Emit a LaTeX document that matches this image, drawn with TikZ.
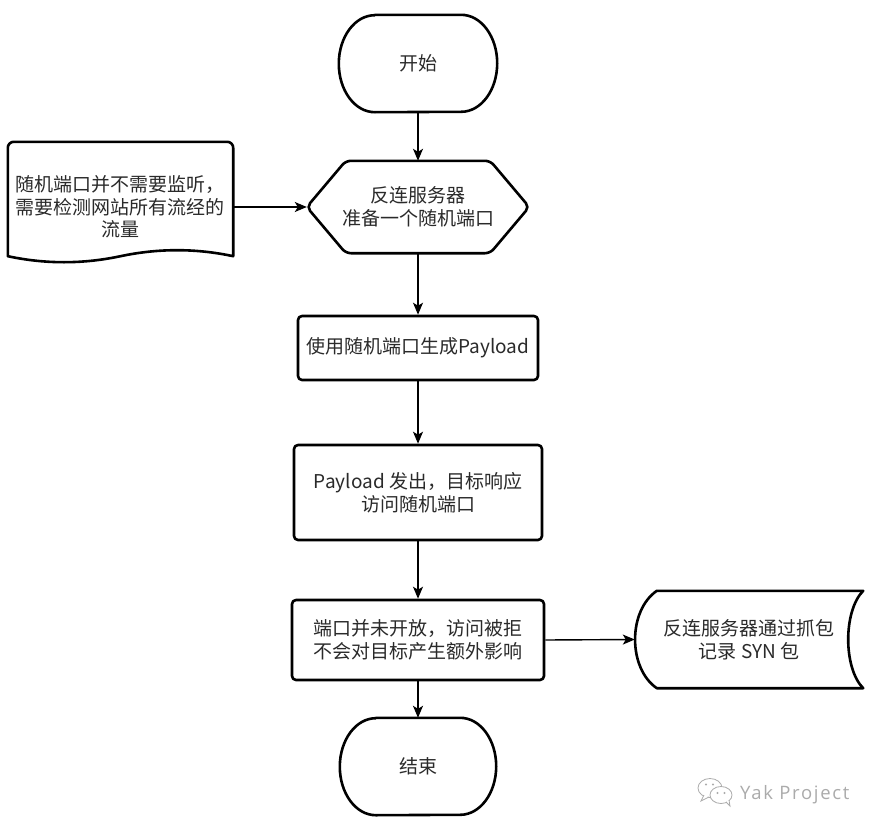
\documentclass[tikz,border=0pt]{standalone}
\usepackage{fontspec}
\newfontfamily\cjk{Noto Sans CJK SC}
\newfontfamily\wmfont[LetterSpace=9]{Open Sans}
\usetikzlibrary{arrows.meta,calc}
\definecolor{txt}{HTML}{2A2A2A}
\definecolor{wmgray}{HTML}{ABABAB}
\begin{document}
\begin{tikzpicture}[x=1pt,y=-1pt,
  every node/.style={font=\cjk\fontsize{19}{23.5}\selectfont, text=txt, align=center, inner sep=0pt},
  outline/.style={draw=black, line width=2.6pt, line join=round},
  boxnode/.style={outline, rounded corners=4pt},
  flow/.style={draw=black, line width=1.4pt, -{Stealth[length=12pt,width=10pt,inset=3pt]}},
  wmline/.style={draw=wmgray, line width=0.8pt},
]
\useasboundingbox (0,0) rectangle (879,835);
\fill[white] (0,0) rectangle (879,835);

% start terminal
\node[minimum width=158pt, minimum height=97pt] (start) at (418,63.5) {开始};
\draw[outline] ($(start.north west)+(36,0)$) -- ($(start.north east)+(-36,0)$)
  arc[start angle=90,end angle=-90,x radius=36pt,y radius=48.5pt]
  -- ($(start.south west)+(36,0)$)
  arc[start angle=-90,end angle=-270,x radius=36pt,y radius=48.5pt] -- cycle;

% hexagon
\node[minimum width=222pt, minimum height=92pt] (hex) at (418,207) {反连服务器\\准备一个随机端口};
\draw[outline, rounded corners=5pt] (hex.west) -- ($(hex.north west)+(39,0)$) -- ($(hex.north east)+(-39,0)$)
  -- (hex.east) -- ($(hex.south east)+(-39,0)$) -- ($(hex.south west)+(39,0)$) -- cycle;

% document shape
\node[minimum width=225pt, minimum height=98pt, font=\cjk\fontsize{19}{22.5}\selectfont] (doc) at (120.5,207) {随机端口并不需要监听，\\需要检测网站所有流经的\\流量};
\draw[outline] (doc.south east)
  .. controls ($(doc.south east)+(-37.3,-8)$) and ($(doc.south)+(37.7,-8)$) .. (doc.south)
  .. controls ($(doc.south)+(-37.7,8)$) and ($(doc.south west)+(37.3,8)$) .. (doc.south west)
  [rounded corners=6pt] -- ($(doc.north west)+(0,-16)$) -- ($(doc.north east)+(0,-16)$) [sharp corners] -- cycle;

% process boxes
\node[boxnode, minimum width=240pt, minimum height=64pt] (gen) at (418,348) {使用随机端口生成Payload};
\node[boxnode, minimum width=248pt, minimum height=95pt] (send) at (418,492.5) {Payload 发出，目标响应\\访问随机端口};
\node[boxnode, minimum width=252pt, minimum height=80pt] (deny) at (418,640) {端口并未开放，访问被拒\\不会对目标产生额外影响};

% stored data
\node[minimum width=228pt, minimum height=97pt] (store) at (749,639.5) {反连服务器通过抓包\\记录 SYN 包};
\draw[outline] ($(store.north west)+(22,0)$) -- (store.north east)
  .. controls ($(store.north east)+(-20,20)$) and ($(store.south east)+(-20,-20)$) .. (store.south east)
  -- ($(store.south west)+(22,0)$)
  .. controls ($(store.south west)+(-7,-20)$) and ($(store.north west)+(-7,20)$) .. cycle;

% end terminal
\node[minimum width=156pt, minimum height=97pt] (stop) at (418,766.5) {结束};
\draw[outline] ($(stop.north west)+(36,0)$) -- ($(stop.north east)+(-36,0)$)
  arc[start angle=90,end angle=-90,x radius=36pt,y radius=48.5pt]
  -- ($(stop.south west)+(36,0)$)
  arc[start angle=-90,end angle=-270,x radius=36pt,y radius=48.5pt] -- cycle;

% connectors
\draw[flow] (start.south) -- (hex.north);
\draw[flow] (doc.east) -- (hex.west);
\draw[flow] (hex.south) -- (gen.north);
\draw[flow] (gen.south) -- (send.north);
\draw[flow] (send.south) -- (deny.north);
\draw[flow] (deny.south) -- (stop.north);
\draw[flow] (deny.east) -- (store.west);

% watermark
\draw[wmline, fill=white] (710,788) ellipse[x radius=12pt, y radius=9.5pt];
\draw[wmline, fill=white] (704,795) -- (701,801) -- (709,797);
\draw[wmline, fill=white] (721,795) ellipse[x radius=11pt, y radius=8.5pt];
\draw[wmline, fill=white] (726,802) -- (730,806) -- (729,800);
\fill[wmgray] (706,784.5) circle[radius=1.1pt] (713,784.5) circle[radius=1.1pt]
  (717.5,793) circle[radius=1.1pt] (724.5,793) circle[radius=1.1pt];
\node[font=\wmfont\fontsize{18.5}{18.5}\selectfont, text=wmgray, anchor=base west] (wm) at (740,799) {Yak Project};
\end{tikzpicture}
\end{document}
